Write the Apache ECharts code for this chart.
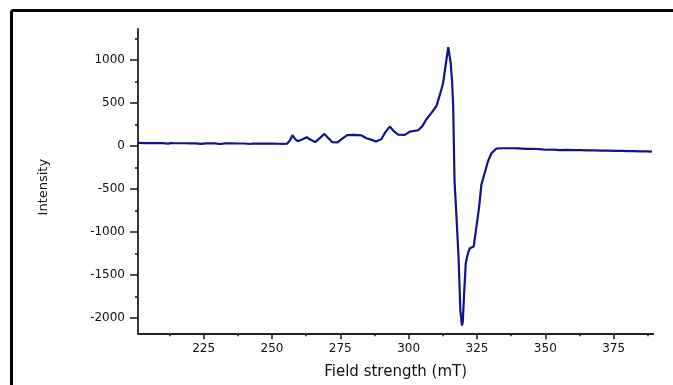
<!DOCTYPE html>
<html>
<head>
<meta charset="utf-8">
<script src="https://cdn.jsdelivr.net/npm/echarts@6/dist/echarts.min.js"></script>
<style>html,body{margin:0;padding:0;background:#fff;}#c{width:673px;height:385px;}</style>
</head>
<body>
<div id="c"></div>
<script>
// Field strength (mT)
const fieldStrength = [201,204,207,210,212,213,215,218,220,222,224,226,229,231,233,235,238,240,242,243,245,248,250,252,254,255.5,
  256.5,257.5,258.5,259.5,261,262.7,264,265.8,267.5,269.2,270.5,272,274,275.5,277.5,280,282.8,284.6,286.5,288,290,291.5,293.1,294.5,296.2,298.6,300.5,303.5,
  305,306.5,308.5,310.2,311.4,312.6,313.2,313.9,314.5,314.9,315.4,315.9,316.3,316.8,317.5,318.3,318.9,319.5,319.8,320.3,320.9,321.7,322.4,323.8,324.8,325.8,326.6,327.8,329,330.3,332.1,
  335,338,340,343,345,348,350,353,355,358,360,363,365,368,370,373,375,378,380,382,385,387,389];
// Intensity values
const intensity = [35,33,33,32,26,32,31,31,30,30,24,30,29,22,29,29,28,28,22,28,27,26,26,25,24,25,
  60,125,80,55,75,100,75,45,90,140,95,45,42,80,125,128,122,90,70,52,78,160,225,175,130,128,166,182,
  230,310,390,465,593,729,864,1020,1150,1155,962,748,457,-415,-822,-1326,-1907,-2090,-2050,-1713,-1364,-1248,-1190,-1170,-938,-706,-453,-318,-182,-85,-30,
  -27,-27,-28,-34,-33,-38,-45,-44,-48,-47,-50,-50,-52,-52,-55,-55,-58,-58,-60,-60,-63,-64,-66];
const yMajorTicks = [-2000,-1500,-1000,-500,0,500,1000];
const yMinorTicks = [-1750,-1250,-750,-250,250,750,1250];
const xMajorTicks = [225,250,275,300,325,350,375];
const xMinorTicks = [212.5,237.5,262.5,287.5,312.5,337.5,362.5,387.5];

const chart = echarts.init(document.getElementById('c'));
const axisColor = '#222';
const labelFont = {fontFamily:'DejaVu Sans', fontSize:12, color:'#111', formatter: v => String(v)};
chart.setOption({
  animation:false,
  backgroundColor:'#fff',
  grid:{left:138, right:19.7, top:29, bottom:51.7, containLabel:false},
  graphic:[
    {type:'line', shape:{x1:11.5,y1:10.5,x2:673,y2:10.5}, style:{stroke:'#000', lineWidth:3}},
    {type:'line', shape:{x1:11.5,y1:10.5,x2:11.5,y2:385}, style:{stroke:'#000', lineWidth:3}}
  ],
  xAxis:[
    {type:'value', min:201, max:389.5, position:'bottom',
      name:'Field strength (mT)', nameLocation:'middle', nameGap:31,
      nameTextStyle:{fontFamily:'DejaVu Sans', fontSize:15, color:'#111'},
      axisLine:{show:true, onZero:false, lineStyle:{color:axisColor, width:1.8}},
      axisTick:{show:true, length:6, customValues:xMajorTicks, lineStyle:{color:axisColor, width:1.6}},
      axisLabel:{show:true, customValues:xMajorTicks, margin:10, ...labelFont},
      splitLine:{show:false}},
    {type:'value', min:201, max:389.5, position:'bottom',
      axisLine:{show:false, onZero:false},
      axisTick:{show:true, length:3, customValues:xMinorTicks, lineStyle:{color:axisColor, width:1.6}},
      axisLabel:{show:false},
      splitLine:{show:false}}
  ],
  yAxis:[
    {type:'value', min:-2180, max:1360, position:'left',
      name:'Intensity', nameLocation:'middle', nameGap:88, nameRotate:90,
      nameTextStyle:{fontFamily:'DejaVu Sans', fontSize:13, color:'#111', padding:[0,12,0,0]},
      axisLine:{show:true, onZero:false, lineStyle:{color:axisColor, width:1.8}},
      axisTick:{show:true, length:8, customValues:yMajorTicks, lineStyle:{color:axisColor, width:1.6}},
      axisLabel:{show:true, customValues:yMajorTicks, margin:13, ...labelFont},
      splitLine:{show:false}},
    {type:'value', min:-2180, max:1360, position:'left',
      axisLine:{show:false, onZero:false},
      axisTick:{show:true, length:3, customValues:yMinorTicks, lineStyle:{color:axisColor, width:1.6}},
      axisLabel:{show:false},
      splitLine:{show:false}}
  ],
  series:[{
    type:'line', xAxisIndex:0, yAxisIndex:0,
    data: fieldStrength.map((x,i)=>[x, intensity[i]]),
    showSymbol:false, symbol:'none',
    lineStyle:{color:'#12128a', width:2.2},
    clip:true
  }]
});
</script>
</body>
</html>
